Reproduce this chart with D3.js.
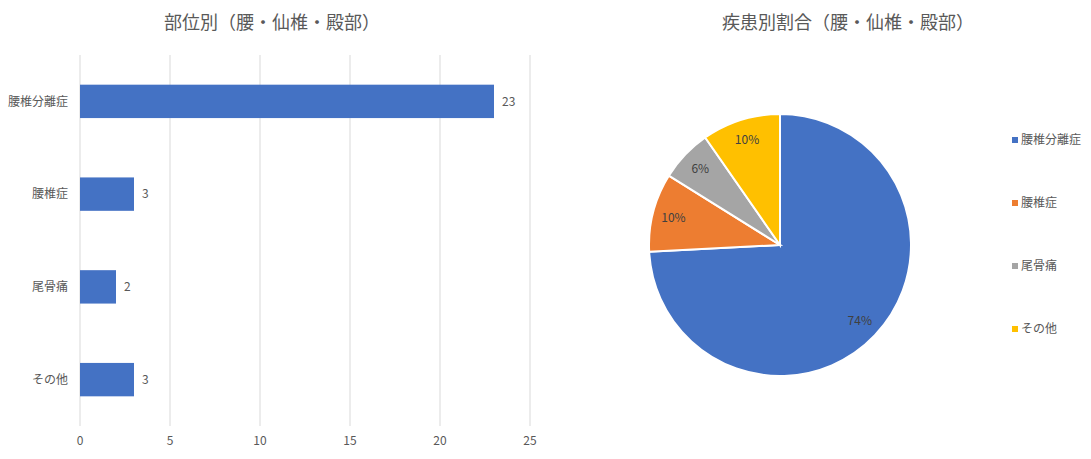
<!DOCTYPE html>
<html>
<head>
<meta charset="utf-8">
<script src="https://cdn.jsdelivr.net/npm/d3@7"></script>
<style>
  body { margin: 0; background: #fff; }
  text { font-family: "Noto Sans CJK JP", "Noto Sans", sans-serif; fill: #595959; }
</style>
</head>
<body>
<script>
// data
const categories = ["腰椎分離症", "腰椎症", "尾骨痛", "その他"];
const counts = [23, 3, 2, 3];
const xTicks = [0, 5, 10, 15, 20, 25];
const colors = ["#4472C4", "#ED7D31", "#A5A5A5", "#FFC000"];
const barTitle = "部位別（腰・仙椎・殿部）";
const pieTitle = "疾患別割合（腰・仙椎・殿部）";

const svg = d3.select("body").append("svg")
  .attr("width", 1091)
  .attr("height", 459);

// bar chart
const x = d3.scaleLinear().domain([0, 25]).range([80, 530]);
const y = d3.scaleBand().domain(categories).range([55, 426]).paddingInner(0.64).paddingOuter(0.32);

svg.append("text")
  .attr("x", 272).attr("y", 29)
  .attr("text-anchor", "middle")
  .style("font-size", "18px")
  .text(barTitle);

svg.append("g").selectAll("line")
  .data(xTicks)
  .enter().append("line")
  .attr("x1", d => x(d)).attr("x2", d => x(d))
  .attr("y1", 55).attr("y2", 426)
  .attr("stroke", "#d9d9d9").attr("stroke-width", 1);

svg.append("g").selectAll("text")
  .data(xTicks)
  .enter().append("text")
  .attr("x", d => x(d)).attr("y", 445)
  .attr("text-anchor", "middle")
  .style("font-size", "12px")
  .text(d => d);

svg.append("g").selectAll("rect")
  .data(counts)
  .enter().append("rect")
  .attr("x", x(0))
  .attr("y", (d, i) => y(categories[i]))
  .attr("width", d => x(d) - x(0))
  .attr("height", y.bandwidth())
  .attr("fill", colors[0]);

svg.append("g").selectAll("text")
  .data(counts)
  .enter().append("text")
  .attr("x", d => x(d) + 8)
  .attr("y", (d, i) => y(categories[i]) + y.bandwidth() / 2)
  .attr("dy", "0.35em")
  .style("font-size", "12px")
  .text(d => d);

svg.append("g").selectAll("text")
  .data(categories)
  .enter().append("text")
  .attr("x", 68)
  .attr("y", d => y(d) + y.bandwidth() / 2)
  .attr("dy", "0.35em")
  .attr("text-anchor", "end")
  .style("font-size", "12px")
  .text(d => d);

// pie chart
const cx = 780, cy = 245, r = 131;
svg.append("text")
  .attr("x", 848).attr("y", 29)
  .attr("text-anchor", "middle")
  .style("font-size", "18px")
  .text(pieTitle);

const total = d3.sum(counts);
const pie = d3.pie().sort(null)(counts);
const arc = d3.arc().innerRadius(0).outerRadius(r);
const labelArc = d3.arc().innerRadius(r * 0.84).outerRadius(r * 0.84);

const pg = svg.append("g").attr("transform", "translate(" + cx + "," + cy + ")");
pg.selectAll("path")
  .data(pie)
  .enter().append("path")
  .attr("d", arc)
  .attr("fill", (d, i) => colors[i])
  .attr("stroke", "#fff").attr("stroke-width", 2);

pg.selectAll("text")
  .data(pie)
  .enter().append("text")
  .attr("transform", d => "translate(" + labelArc.centroid(d) + ")")
  .attr("text-anchor", "middle")
  .attr("dy", "0.35em")
  .style("font-size", "12px")
  .style("fill", "#404040")
  .text(d => Math.round(d.data / total * 100) + "%");

// legend
const ly = d3.scalePoint().domain(categories).range([140, 329]);
const lg = svg.append("g");
lg.selectAll("rect")
  .data(categories)
  .enter().append("rect")
  .attr("x", 1012).attr("y", d => ly(d) - 3)
  .attr("width", 6).attr("height", 6)
  .attr("fill", (d, i) => colors[i]);
lg.selectAll("text")
  .data(categories)
  .enter().append("text")
  .attr("x", 1021).attr("y", d => ly(d))
  .attr("dy", "0.35em")
  .style("font-size", "12px")
  .text(d => d);
</script>
</body>
</html>
